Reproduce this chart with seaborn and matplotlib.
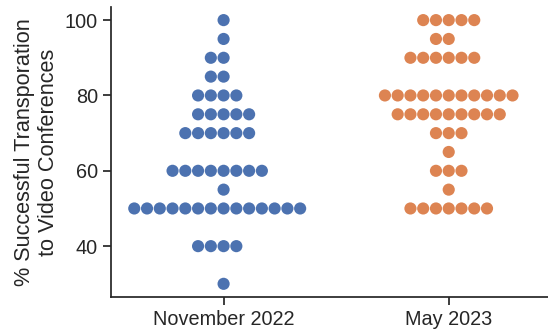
import numpy as np
import pandas as pd
import matplotlib
matplotlib.use("Agg")
import matplotlib.pyplot as plt
import seaborn as sns

# Survey results per session: percent value and number of responses at that value
nov_values = [100, 95, 90, 85, 80, 75, 70, 60, 55, 50, 40, 30]
nov_counts = [1, 1, 2, 2, 4, 5, 6, 8, 1, 14, 4, 1]
may_values = [100, 95, 90, 80, 75, 70, 65, 60, 55, 50]
may_counts = [5, 2, 6, 11, 9, 3, 1, 3, 1, 7]
sessions = ["November 2022", "May 2023"]

rows = []
for session, vals, cnts in [(sessions[0], nov_values, nov_counts),
                            (sessions[1], may_values, may_counts)]:
    for v, c in zip(vals, cnts):
        rows += [(session, v)] * c
df = pd.DataFrame(rows, columns=["session", "pct"])

sns.set_theme(style="ticks", font_scale=1.3)
plt.rcParams["font.family"] = ["Liberation Sans", "DejaVu Sans"]

fig = plt.figure(figsize=(5.48, 3.30), dpi=100)
ax = fig.add_axes([0.2026, 0.10, 0.797, 0.879])
sns.swarmplot(data=df, x="session", y="pct", hue="session", order=sessions,
              hue_order=sessions, size=8.75, legend=False, ax=ax)
ax.set_xlim(-0.5, 1.44)
ax.set_yticks([40, 60, 80, 100])
ax.set_xlabel("")
ax.set_ylabel("% Successful Transporation\nto Video Conferences")
sns.despine(ax=ax)
fig.savefig("out.png", dpi=100)
